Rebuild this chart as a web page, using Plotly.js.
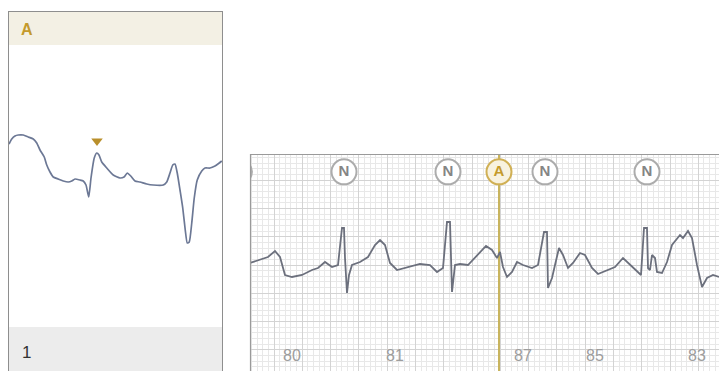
<!DOCTYPE html>
<html>
<head>
<meta charset="utf-8">
<script src="https://cdn.plot.ly/plotly-3.0.1.min.js"></script>
<style>html,body{margin:0;padding:0;background:#fff;}#chart{width:719px;height:371px;}</style>
</head>
<body>
<div id="chart"></div>
<script>
// ---- Data ----
// Left panel: zoomed single beat (time ms, amplitude mV)
const detailTime = [4,15,28,41,61,81,101,115,128,145,155,168,181,201,221,241,255,268,288,301,312,323,332,345,355,364,375,395,421,448,464,477,491,508,528,555,581,621,635,648,659,668,677,688,699,709,717,725,735,745,757,775,788,808,828,845,855];
const detailAmp  = [0.41,0.46,0.49,0.50,0.50,0.48,0.46,0.42,0.35,0.28,0.20,0.13,0.08,0.06,0.04,0.03,0.04,0.06,0.05,0.04,0.00,-0.12,0.07,0.27,0.32,0.30,0.23,0.17,0.10,0.07,0.08,0.12,0.09,0.04,0.03,0.01,0.00,0.00,0.03,0.12,0.20,0.21,0.12,-0.05,-0.23,-0.45,-0.58,-0.57,-0.38,-0.13,0.05,0.14,0.17,0.17,0.19,0.22,0.24];
const detailMarkTime = [356];
const detailMarkAmp = [0.44];
const detailLabel = "A";
const detailIndex = "1";

// Right panel: rhythm strip (time ms, amplitude mV)
const stripTime = [0,56,126,175,210,245,294,364,434,476,525,574,616,644,658,665,679,693,714,770,826,875,910,945,980,1029,1085,1190,1260,1309,1351,1379,1400,1407,1414,1435,1470,1526,1589,1652,1694,1729,1750,1771,1799,1834,1869,1911,1974,2016,2058,2079,2086,2114,2135,2163,2191,2226,2261,2310,2345,2394,2436,2499,2555,2611,2639,2681,2737,2758,2779,2786,2800,2814,2835,2849,2884,2919,2954,3010,3031,3066,3094,3129,3164,3199,3241,3283];
const stripAmp  = [0.035,0.0875,0.14,0.245,0.14,-0.175,-0.21,-0.175,-0.0875,-0.0525,0.0525,-0.035,0,0.6475,0.6475,0.1225,-0.49,-0.175,0,0.0525,0.14,0.35,0.4375,0.35,0.035,-0.0875,-0.0525,0.0175,0,-0.1225,-0.0525,0.7525,0.7525,0,-0.4725,0,0.0175,0,0.175,0.3325,0.2625,0.1225,0.2275,-0.035,-0.21,-0.1225,0.0525,0,-0.0525,0,0.5775,0.5775,-0.4025,-0.2275,0.0,0.2975,0.175,-0.0525,0.035,0.21,0.175,-0.0525,-0.1575,-0.0875,-0.035,0.1225,0.0525,-0.0525,-0.175,0.6475,0.6475,-0.0525,-0.0875,0.175,0.1225,-0.1225,-0.14,0.0525,0.35,0.525,0.4725,0.595,0.4725,0,-0.385,-0.2275,-0.175,-0.21];
const beatTimes = [-74,658,1386,1743,2065,2779];
const beatTypes = ["N","N","N","A","N","N"];
const hrTimes  = [294,1015,1911,2415,3129];
const hrValues = ["80","81","87","85","83"];

// ---- Layout helpers ----
const W = 719, H = 371;
const fx = p => p / W;
const fy = p => 1 - p / H;
const stripRange = [-1.855, 1.9425];
const labelLevel = 1.63;
const hrLevel = -1.61;

const GOLD = "#c49a2c";
const typeLine = t => t === "A" ? "#d0b055" : "#acacac";
const typeFill = t => t === "A" ? "#f8f2df" : "#ffffff";
const typeText = t => t === "A" ? "#c49a2c" : "#858585";

const aTime = beatTimes[beatTypes.indexOf("A")];
const FONT = "Liberation Sans, Arial, sans-serif";

const traces = [
  { x: detailTime, y: detailAmp, xaxis: "x", yaxis: "y", mode: "lines",
    line: { color: "#6c7895", width: 1.7, shape: "spline", smoothing: 0.5 }, hoverinfo: "skip" },
  { x: detailMarkTime, y: detailMarkAmp, xaxis: "x", yaxis: "y", mode: "markers",
    marker: { symbol: "triangle-down", size: 10, color: "#b98f2b" }, hoverinfo: "skip" },
  { x: [aTime, aTime], y: stripRange, xaxis: "x2", yaxis: "y2", mode: "lines",
    line: { color: "#c8b45e", width: 2 }, hoverinfo: "skip" },
  { x: stripTime, y: stripAmp, xaxis: "x2", yaxis: "y2", mode: "lines",
    line: { color: "#6c707d", width: 1.8 }, hoverinfo: "skip" },
  { x: beatTimes, y: beatTimes.map(() => labelLevel), xaxis: "x2", yaxis: "y2",
    mode: "markers+text", text: beatTypes, textposition: "middle center",
    textfont: { family: FONT, size: 15, color: beatTypes.map(typeText), weight: "bold" },
    marker: { symbol: "circle", size: 25, color: beatTypes.map(typeFill),
      line: { color: beatTypes.map(typeLine), width: 2 } }, hoverinfo: "skip" },
  { x: hrTimes, y: hrTimes.map(() => hrLevel), xaxis: "x2", yaxis: "y2",
    mode: "text", text: hrValues, textposition: "middle center",
    textfont: { family: FONT, size: 16, color: "#9d9d9d" }, hoverinfo: "skip" }
];

const hidden = { visible: false, fixedrange: true };
const layout = {
  width: W, height: H,
  margin: { l: 0, r: 0, t: 0, b: 0, pad: 0 },
  paper_bgcolor: "#ffffff", plot_bgcolor: "rgba(0,0,0,0)",
  showlegend: false,
  xaxis: Object.assign({ domain: [fx(8), fx(222)], range: [0, 856], anchor: "y" }, hidden),
  yaxis: Object.assign({ domain: [fy(326), fy(46)], range: [-1.41, 1.39], anchor: "x" }, hidden),
  xaxis2: { domain: [fx(250), 1], range: [0, 3283], anchor: "y2", fixedrange: true,
    showgrid: true, gridcolor: "#d3d3d3", gridwidth: 1, dtick: 198, tick0: 168,
    minor: { dtick: 39.6, tick0: 168, showgrid: true, gridcolor: "#e8e8e8", gridwidth: 1 },
    showticklabels: false, ticks: "", zeroline: false, showline: false },
  yaxis2: { domain: [0, fy(154)], range: stripRange, anchor: "x2", fixedrange: true,
    showgrid: true, gridcolor: "#d3d3d3", gridwidth: 1, dtick: 0.4947, tick0: 0,
    minor: { dtick: 0.09894, tick0: 0, showgrid: true, gridcolor: "#e8e8e8", gridwidth: 1 },
    showticklabels: false, ticks: "", zeroline: false, showline: false },
  shapes: [
    { type: "rect", xref: "paper", yref: "paper", x0: fx(8), x1: fx(222), y0: fy(45), y1: fy(11),
      fillcolor: "#f3f0e4", line: { width: 0 }, layer: "below" },
    { type: "rect", xref: "paper", yref: "paper", x0: fx(8), x1: fx(222), y0: fy(371), y1: fy(327),
      fillcolor: "#ececec", line: { width: 0 }, layer: "below" },
    { type: "line", xref: "paper", yref: "paper", x0: fx(8.5), x1: fx(8.5), y0: fy(371), y1: fy(11),
      line: { color: "#8e8e8e", width: 1 } },
    { type: "line", xref: "paper", yref: "paper", x0: fx(222.5), x1: fx(222.5), y0: fy(371), y1: fy(11),
      line: { color: "#8e8e8e", width: 1 } },
    { type: "line", xref: "paper", yref: "paper", x0: fx(8), x1: fx(223), y0: fy(11.5), y1: fy(11.5),
      line: { color: "#8e8e8e", width: 1 } },
    { type: "line", xref: "paper", yref: "paper", x0: fx(250), x1: 1, y0: fy(154.5), y1: fy(154.5),
      line: { color: "#9a9a9a", width: 1.2 } },
    { type: "line", xref: "paper", yref: "paper", x0: fx(250.5), x1: fx(250.5), y0: 0, y1: fy(154),
      line: { color: "#9a9a9a", width: 1.2 } }
  ],
  annotations: [
    { xref: "paper", yref: "paper", x: fx(19), y: fy(30), xanchor: "left", yanchor: "middle",
      text: "<b>" + detailLabel + "</b>", showarrow: false,
      font: { family: FONT, size: 16, color: GOLD } },
    { xref: "paper", yref: "paper", x: fx(20), y: fy(352), xanchor: "left", yanchor: "middle",
      text: detailIndex, showarrow: false,
      font: { family: FONT, size: 17, color: "#333333" } }
  ]
};

Plotly.newPlot("chart", traces, layout, { staticPlot: true, displayModeBar: false });
</script>
</body>
</html>
